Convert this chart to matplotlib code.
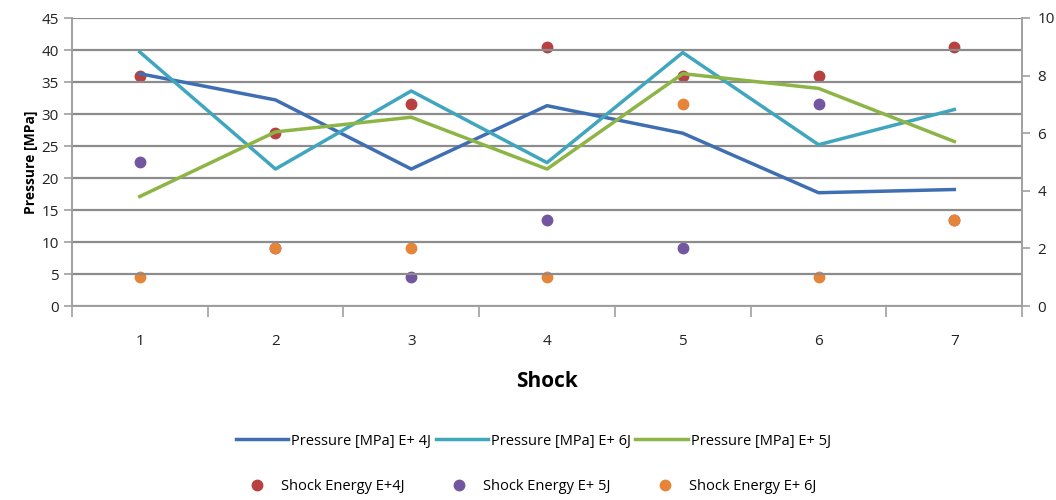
import matplotlib.pyplot as plt

shocks = [1, 2, 3, 4, 5, 6, 7]

# pressure readings [MPa]
pressure_4j = [36.3, 32.2, 21.4, 31.3, 27.0, 17.7, 18.2]
pressure_6j = [39.7, 21.4, 33.6, 22.4, 39.6, 25.2, 30.7]
pressure_5j = [17.1, 27.2, 29.5, 21.4, 36.3, 34.0, 25.7]

# shock energy levels (right axis)
energy_4j = [8, 6, 7, 9, 8, 8, 9]
energy_5j = [5, 2, 1, 3, 2, 7, 3]
energy_6j = [1, 2, 2, 1, 7, 1, 3]

grid_col = "#8c8c8c"

plt.rcParams["font.family"] = ["Open Sans", "DejaVu Sans"]

fig = plt.figure(figsize=(10.56, 5.0), dpi=100)
ax = fig.add_axes([0.068, 0.388, 0.900, 0.576])
ax2 = ax.twinx()

l1, = ax.plot(shocks, pressure_4j, color="#3f6eb3", lw=2.5, zorder=3)
l2, = ax.plot(shocks, pressure_6j, color="#3fa6bd", lw=2.5, zorder=3)
l3, = ax.plot(shocks, pressure_5j, color="#8db545", lw=2.5, zorder=3)

s1, = ax2.plot(shocks, energy_4j, "o", color="#b84040", ms=7.5, ls="none")
s2, = ax2.plot(shocks, energy_5j, "o", color="#7356a0", ms=7.5, ls="none")
s3, = ax2.plot(shocks, energy_6j, "o", color="#e6843a", ms=7.5, ls="none")

ax.set_zorder(ax2.get_zorder() + 1)
ax.patch.set_visible(False)

ax.set_xlim(0.5, 7.5)
ax.set_ylim(0, 45)
ax2.set_ylim(0, 10)
ax.set_yticks(range(0, 46, 5))
ax2.set_yticks(range(0, 11, 2))
ax.set_xticks(shocks)
ax.set_xticks([x + 0.5 for x in range(0, 8)], minor=True)

ax.yaxis.grid(True, color=grid_col, lw=1.6)
ax.set_axisbelow(True)

for a in (ax, ax2):
    a.spines["top"].set_visible(False)
    for side in ("left", "right", "bottom"):
        a.spines[side].set_color("#a0a0a0")
        a.spines[side].set_linewidth(1.2)

ax.tick_params(axis="x", which="major", length=0, pad=20, labelsize=11, labelcolor="#222222")
ax.tick_params(axis="x", which="minor", length=8, color="#a0a0a0", width=1.2)
ax.tick_params(axis="y", length=6, color="#a0a0a0", width=1.2, labelsize=11, labelcolor="#222222")
ax2.tick_params(axis="y", length=6, color="#a0a0a0", width=1.2, pad=5,
                labelsize=11, labelcolor="#222222")
ax2.tick_params(axis="x", length=0)

ax.set_xlabel("Shock", fontsize=15, fontweight="bold", labelpad=16)
ax.set_ylabel("Pressure [MPa]", fontsize=10, fontweight="bold", labelpad=2)

fig.legend([l1, l2, l3],
           ["Pressure [MPa] E+ 4J", "Pressure [MPa] E+ 6J", "Pressure [MPa] E+ 5J"],
           loc="center", bbox_to_anchor=(0.505, 0.118), ncol=3, frameon=False,
           fontsize=10.5, handlelength=3.6, handletextpad=0.2, columnspacing=0.3)
fig.legend([s1, s2, s3],
           ["Shock Energy E+4J", "Shock Energy E+ 5J", "Shock Energy E+ 6J"],
           loc="center", bbox_to_anchor=(0.503, 0.026), ncol=3, frameon=False,
           fontsize=10.5, handlelength=1.5, handletextpad=0.9, columnspacing=3.0)

fig.savefig("out.png", dpi=100)
plt.close(fig)
